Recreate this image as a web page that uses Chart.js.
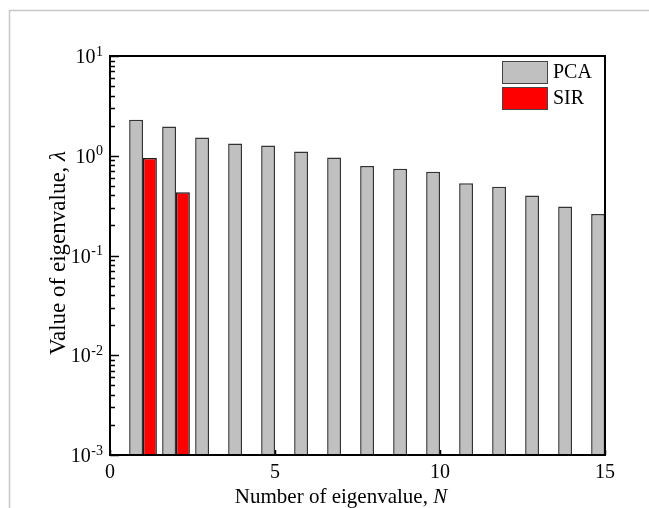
<!DOCTYPE html>
<html>
<head>
<meta charset="utf-8">
<script src="https://cdn.jsdelivr.net/npm/chart.js@4.4.1/dist/chart.umd.min.js"></script>
<style>
  html, body { margin: 0; padding: 0; background: #fff; }
  #wrap { width: 649px; height: 508px; position: relative; }
</style>
</head>
<body>
<div id="wrap"><canvas id="eig"></canvas></div>
<script>
const eigenIndex = [1, 2, 3, 4, 5, 6, 7, 8, 9, 10, 11, 12, 13, 14, 15];
const pcaValues = [2.30, 1.97, 1.52, 1.33, 1.27, 1.10, 0.96, 0.79, 0.74, 0.69, 0.53, 0.49, 0.40, 0.31, 0.26];
const sirValues = [0.95, 0.43];
const xTicks = [0, 5, 10, 15];
const yDecades = [-3, -2, -1, 0, 1];

const serif = "'Liberation Serif', 'Times New Roman', serif";

// frame, inward ticks, y labels with exponents, axis titles, legend
const decor = {
  id: 'decor',
  beforeDraw(chart) {
    const c = chart.ctx;
    c.save();
    c.strokeStyle = '#c8c8c8';
    c.lineWidth = 1.5;
    c.beginPath();
    c.moveTo(9.5, 508);
    c.lineTo(9.5, 10.5);
    c.lineTo(649, 10.5);
    c.stroke();
    c.restore();
  },
  afterDraw(chart) {
    const { ctx: c, chartArea: a, scales: { x, y } } = chart;
    c.save();
    c.strokeStyle = '#000';
    c.fillStyle = '#000';

    // minor + major ticks on left axis
    c.lineWidth = 1.5;
    c.beginPath();
    for (let d = yDecades[0]; d < yDecades[yDecades.length - 1]; d++) {
      for (let m = 2; m <= 9; m++) {
        const py = Math.round(y.getPixelForValue(m * Math.pow(10, d))) + 0.5;
        c.moveTo(a.left, py);
        c.lineTo(a.left + 5, py);
      }
    }
    yDecades.forEach(d => {
      const py = Math.round(y.getPixelForValue(Math.pow(10, d))) + 0.5;
      c.moveTo(a.left, py);
      c.lineTo(a.left + 9, py);
    });
    xTicks.forEach(t => {
      const px = Math.round(x.getPixelForValue(t)) + 0.5;
      c.moveTo(px, a.bottom);
      c.lineTo(px, a.bottom - 5);
    });
    c.stroke();

    // plot box
    c.lineWidth = 2;
    c.strokeRect(a.left, a.top, a.right - a.left, a.bottom - a.top);

    // y tick labels 10^n
    yDecades.forEach(d => {
      const py = y.getPixelForValue(Math.pow(10, d));
      const exp = String(d);
      c.font = '14px ' + serif;
      const we = c.measureText(exp).width;
      const xe = 103 - we;
      c.textAlign = 'left';
      c.textBaseline = 'alphabetic';
      c.fillText(exp, xe, py - 0.5);
      c.font = '20px ' + serif;
      c.textAlign = 'right';
      c.fillText('10', xe - 0.5, py + 7);
    });

    // x title with italic N
    c.textBaseline = 'alphabetic';
    c.textAlign = 'left';
    c.font = '21px ' + serif;
    const t1 = 'Number of eigenvalue, ';
    const w1 = c.measureText(t1).width;
    c.font = 'italic 21px ' + serif;
    const w2 = c.measureText('N').width;
    let sx = 341 - (w1 + w2) / 2;
    c.font = '21px ' + serif;
    c.fillText(t1, sx, 503);
    c.font = 'italic 21px ' + serif;
    c.fillText('N', sx + w1, 503);

    // y title with italic lambda
    c.save();
    c.translate(59, 253);
    c.rotate(-Math.PI / 2);
    c.textBaseline = 'middle';
    c.font = '23px ' + serif;
    const y1 = 'Value of eigenvalue, ';
    const wy1 = c.measureText(y1).width;
    c.font = 'italic 23px ' + serif;
    const wy2 = c.measureText('\u03bb').width;
    sx = -(wy1 + wy2) / 2;
    c.font = '23px ' + serif;
    c.fillText(y1, sx, 0);
    c.font = 'italic 23px ' + serif;
    c.fillText('\u03bb', sx + wy1, 0);
    c.restore();

    // legend
    chart.data.datasets.forEach((ds, i) => {
      const top = 61 + i * 26;
      c.fillStyle = ds.backgroundColor;
      c.fillRect(502, top, 45, 22);
      c.strokeStyle = '#444';
      c.lineWidth = 1;
      c.strokeRect(502.5, top + 0.5, 45, 22);
      c.fillStyle = '#000';
      c.font = '20px ' + serif;
      c.textAlign = 'left';
      c.textBaseline = 'middle';
      c.fillText(ds.label, 553, top + 12);
    });
    c.restore();
  }
};

new Chart(document.getElementById('eig'), {
  type: 'bar',
  data: {
    datasets: [{
      label: 'PCA',
      data: pcaValues.map((v, i) => ({ x: eigenIndex[i], y: v })),
      backgroundColor: '#c0c0c0',
      borderColor: '#333333',
      borderWidth: 1.5,
    }, {
      label: 'SIR',
      data: sirValues.map((v, i) => ({ x: eigenIndex[i], y: v })),
      backgroundColor: '#ff0000',
      borderColor: '#1a1a1a',
      borderWidth: 1.5,
    }]
  },
  options: {
    responsive: true,
    maintainAspectRatio: false,
    animation: false,
    categoryPercentage: 0.84,
    barPercentage: 1.0,
    layout: { padding: { top: 56, right: 44, left: 0, bottom: 0 } },
    scales: {
      x: {
        type: 'linear',
        offset: false,
        min: 0,
        max: 15,
        grid: { display: false, drawTicks: false, offset: false },
        border: { display: false },
        ticks: {
          stepSize: 5,
          padding: 6,
          color: '#000',
          font: { family: serif, size: 20 },
          maxRotation: 0,
        },
        afterFit: s => { s.height = 53; },
      },
      y: {
        type: 'logarithmic',
        min: 0.001,
        max: 10,
        grid: { display: false, drawTicks: false },
        border: { display: false },
        ticks: { display: false },
        afterFit: s => { s.width = 110; },
      }
    },
    plugins: {
      legend: { display: false },
      tooltip: { enabled: false },
    }
  },
  plugins: [decor]
});
</script>
</body>
</html>
